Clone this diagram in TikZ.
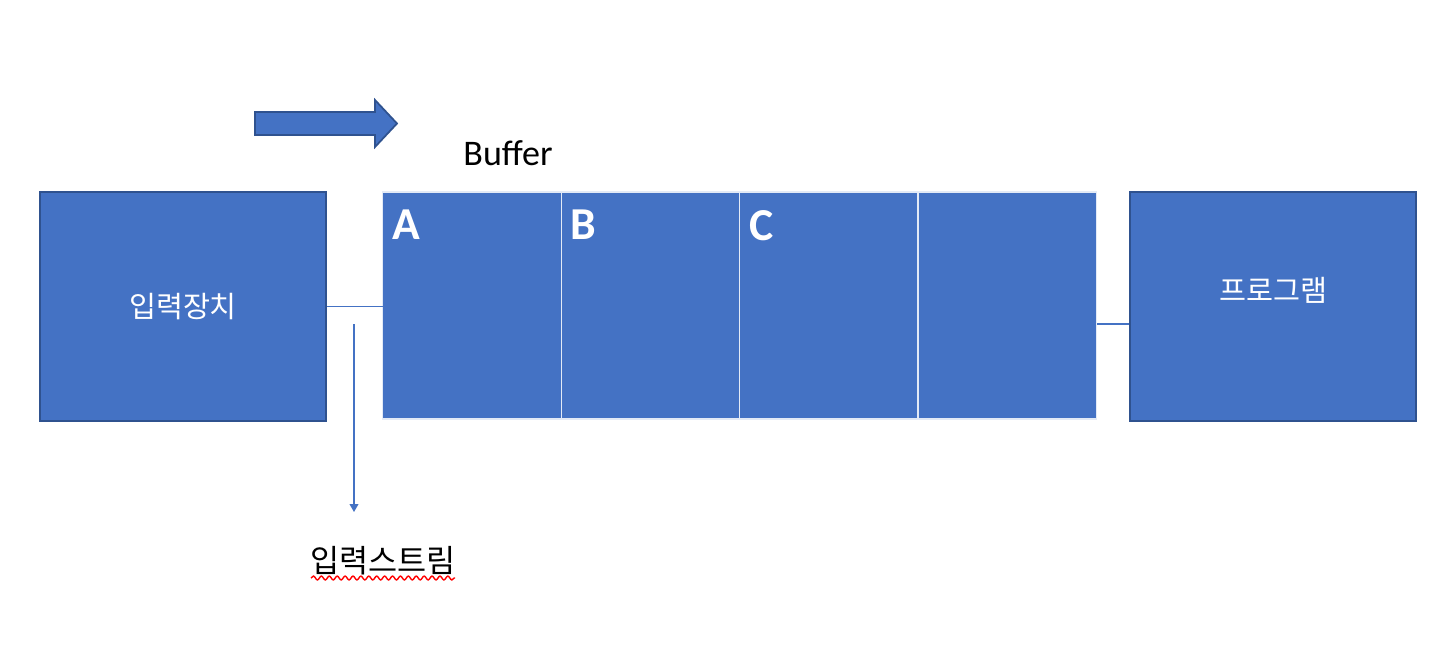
\documentclass[tikz,border=0pt]{standalone}
\usepackage{fontspec}
\setmainfont{Carlito}
\newfontfamily\hangul{Noto Sans CJK KR}
\usetikzlibrary{arrows.meta, positioning, decorations.pathmorphing}

\definecolor{officeblue}{HTML}{4472C4}
\definecolor{officeedge}{HTML}{2F528F}

\begin{document}
\begin{tikzpicture}[x=0.02cm, y=-0.02cm,
                box style/.style={rectangle, draw=officeedge, fill=officeblue, line width=1pt, minimum width=5.72cm, minimum height=4.58cm, inner sep=0pt, text=white, font=\hangul\fontsize{16.7}{19}\selectfont},
                cell style/.style={rectangle, draw=white!85!officeblue, fill=officeblue, line width=0.8pt, minimum width=3.57cm, minimum height=4.54cm, inner sep=0pt, outer sep=0pt},
                letter style/.style={anchor=north west, text=white, inner sep=0pt, font=\bfseries\fontsize{26}{30}\selectfont},
                link style/.style={officeblue, line width=0.6pt},
                move style/.style={draw=officeedge, fill=officeblue, line width=1pt}
]
    \useasboundingbox (0,0) rectangle (1444,666);

    % Input device and program
        \node[box style] (input) at (183,306.5) {입력장치};
        \node[box style, label={[text=white, font=\hangul\fontsize{16.7}{19}\selectfont, yshift=9pt]center:프로그램}] (program) at (1273,306.5) {};

    % Buffer cells
        \node[cell style] (cellA) at (472,305.5) {};
        \node[cell style, right=0pt of cellA] (cellB) {};
        \node[cell style, right=0pt of cellB] (cellC) {};
        \node[cell style, right=0pt of cellC] (cellD) {};
        \node[letter style] (letterA) at ([shift={(9,18)}]cellA.north west) {A};
        \node[letter style] (letterB) at ([shift={(9,18)}]cellB.north west) {B};
        \node[letter style] (letterC) at ([shift={(9,18)}]cellC.north west) {C};
        \node[font=\fontsize{20.5}{24}\selectfont] (buffer) at (508,153) {Buffer};

    % Moving direction
        \draw[move style] (255,112) -- (375,112) -- (375,100) -- (397,123.5) -- (375,147) -- (375,135) -- (255,135) -- cycle;

    % Connections
        \draw[link style] (input.east) -- (input.east -| cellA.west);
        \coordinate (join) at (1097,324);
        \draw[link style] (join) -- (join -| program.west);
        \coordinate (streamtop) at (354,324);
        \coordinate (streamend) at (354,512);
        \draw[link style, -{Triangle[width=5pt, length=4.5pt]}] (streamtop) -- (streamend);

    % Input stream label
        \node[font=\hangul\fontsize{18}{21}\selectfont] (stream) at (383,561) {입력스트림};
        \draw[red, line width=0.8pt, decorate, decoration={snake, amplitude=1.1pt, segment length=4.5pt}] (311,578) -- (455,578);
\end{tikzpicture}
\end{document}
